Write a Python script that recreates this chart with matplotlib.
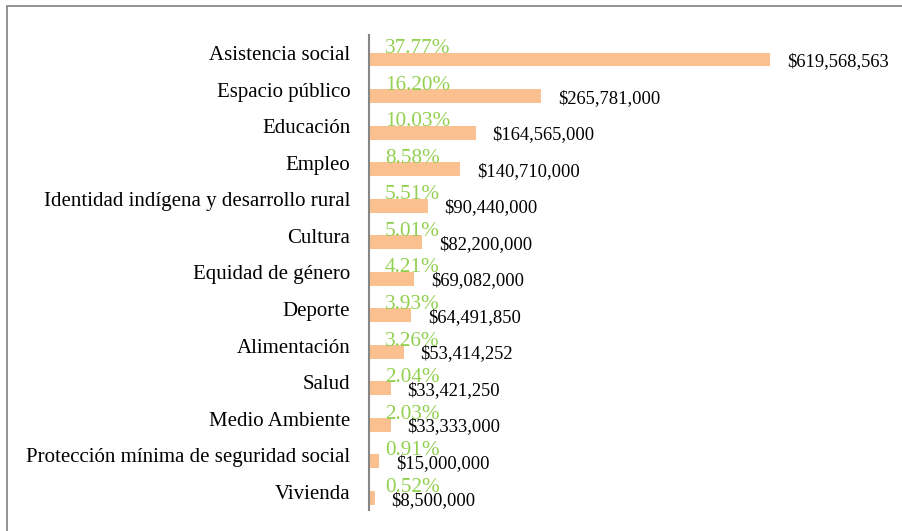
import matplotlib
matplotlib.use("Agg")
import matplotlib.pyplot as plt
from matplotlib.patches import Rectangle

categories = ["Asistencia social", "Espacio público", "Educación", "Empleo",
              "Identidad indígena y desarrollo rural", "Cultura", "Equidad de género",
              "Deporte", "Alimentación", "Salud", "Medio Ambiente",
              "Protección mínima de seguridad social", "Vivienda"]
amounts = [619568563, 265781000, 164565000, 140710000, 90440000, 82200000, 69082000,
           64491850, 53414252, 33421250, 33333000, 15000000, 8500000]
percent_labels = ["37.77%", "16.20%", "10.03%", "8.58%", "5.51%", "5.01%", "4.21%",
                  "3.93%", "3.26%", "2.04%", "2.03%", "0.91%", "0.52%"]
amount_labels = ["$619,568,563", "$265,781,000", "$164,565,000", "$140,710,000",
                 "$90,440,000", "$82,200,000", "$69,082,000", "$64,491,850",
                 "$53,414,252", "$33,421,250", "$33,333,000", "$15,000,000", "$8,500,000"]

W, H = 902, 531
fig = plt.figure(figsize=(W / 100, H / 100), dpi=100)
font = "Liberation Serif"

# outer frame (cropped at right/bottom)
fig.patches.append(Rectangle((7 / W, -0.1), 1.2, 1 - 6 / H + 0.1, transform=fig.transFigure,
                             fill=False, edgecolor="#8a8a8a", linewidth=1.3))

left, right = 369, 860
top, bottom = 35, 510
ax = fig.add_axes([left / W, 1 - bottom / H, (right - left) / W, (bottom - top) / H])
px_per_val = (770 - 369) / 619568563
ax.set_xlim(0, (right - left) / px_per_val)
n = len(categories)
ax.set_ylim(n - 0.5, -0.5)

ys = list(range(n))
off = 0.17
ax.barh([y + off for y in ys], amounts, height=0.38, color="#FAC090", edgecolor="none")

for y, a, pl, al in zip(ys, amounts, percent_labels, amount_labels):
    ax.annotate(pl, xy=(0, y + off - 0.17), xytext=(16 * 0.72, 0), textcoords="offset points",
                ha="left", va="baseline", color="#92D050", fontsize=15.3, family=font)
    ax.annotate(al, xy=(a, y + off + 0.06), xytext=(17 * 0.72, 0), textcoords="offset points",
                ha="left", va="center", color="#000000", fontsize=13.3, family=font)

ax.set_yticks(ys)
ax.set_yticklabels(categories, family=font, fontsize=15)
ax.tick_params(axis="y", length=0, pad=13.5)
ax.set_xticks([])
for s in ["top", "right", "bottom"]:
    ax.spines[s].set_visible(False)
ax.spines["left"].set_color("#868686")
ax.spines["left"].set_linewidth(1.5)
ax.patch.set_alpha(0)

fig.savefig("out.png", dpi=100)
